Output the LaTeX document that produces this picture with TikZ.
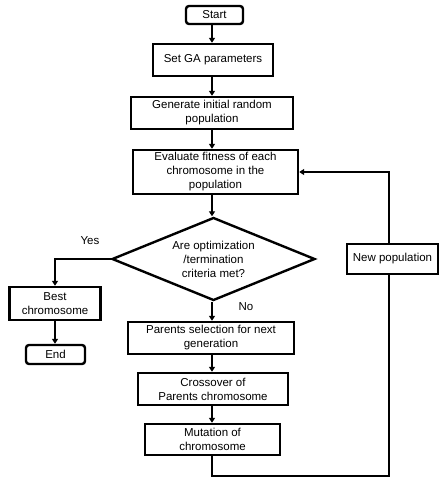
\documentclass[tikz,border=0pt]{standalone}
\usepackage{fontspec}
\setmainfont{Liberation Sans}
\usetikzlibrary{shapes.geometric,arrows.meta}
\begin{document}
\begin{tikzpicture}[x=1pt,y=-1pt,
  every node/.style={font=\fontsize{11.5}{14}\selectfont, align=center, inner sep=0pt},
  box/.style={draw, line width=2.4pt, rectangle},
  term/.style={draw, line width=2.4pt, rectangle, rounded corners=3pt},
  dec/.style={draw, line width=2.4pt, diamond, shape aspect=2.45},
  conn/.style={line width=2.2pt, -{Triangle[length=5pt,width=6pt]}},
  line/.style={line width=2.2pt}]
\useasboundingbox (0,0) rectangle (445,485);
\coordinate (col) at (212,0);
\node[term, minimum width=57pt, minimum height=18pt] (start) at (214.5,15) {Start};
\node[box, minimum width=120pt, minimum height=32pt] (set) at (213,60) {Set GA parameters};
\node[box, minimum width=162pt, minimum height=32pt] (gen) at (212,113) {Generate initial random\\population};
\node[box, minimum width=165pt, minimum height=44pt] (eval) at (215.5,172) {Evaluate fitness of each\\chromosome in the\\population};
\node[dec, minimum width=203pt, minimum height=83pt] (dia) at (213.5,259) {Are optimization\\/termination\\criteria met?};
\node[box, minimum width=91pt, minimum height=33pt] (best) at (55,303.5) {Best\\chromosome};
\node[term, minimum width=59pt, minimum height=19pt] (end) at (55.5,354.5) {End};
\node[box, minimum width=166pt, minimum height=32pt] (par) at (211,338) {Parents selection for next\\generation};
\node[box, minimum width=150pt, minimum height=32pt] (cross) at (213,389) {Crossover of\\Parents chromosome};
\node[box, minimum width=135pt, minimum height=31pt] (mut) at (212.5,439.5) {Mutation of\\chromosome};
\node[box, minimum width=91pt, minimum height=30pt] (newp) at (392.5,259) {New population};
\node (yes) at (90,241) {Yes};
\node (no) at (246,307) {No};
\coordinate (loopx) at (389,476);
\draw[conn] (start.south -| col) -- (set.north -| col);
\draw[conn] (set.south -| col) -- (gen.north -| col);
\draw[conn] (gen.south -| col) -- (eval.north -| col);
\draw[conn] (eval.south -| col) -- (dia.north -| col);
\draw[conn] (dia.west) -| (best.north);
\draw[conn] (best.south) -- (best.south |- end.north);
\draw[conn] (dia.south -| col) -- (par.north -| col);
\draw[conn] (par.south -| col) -- (cross.north -| col);
\draw[conn] (cross.south -| col) -- (mut.north -| col);
\draw[line] (mut.south -| col) |- (loopx) -- (loopx |- newp.south);
\draw[conn] (loopx |- newp.north) |- (eval.east);
\end{tikzpicture}
\end{document}
